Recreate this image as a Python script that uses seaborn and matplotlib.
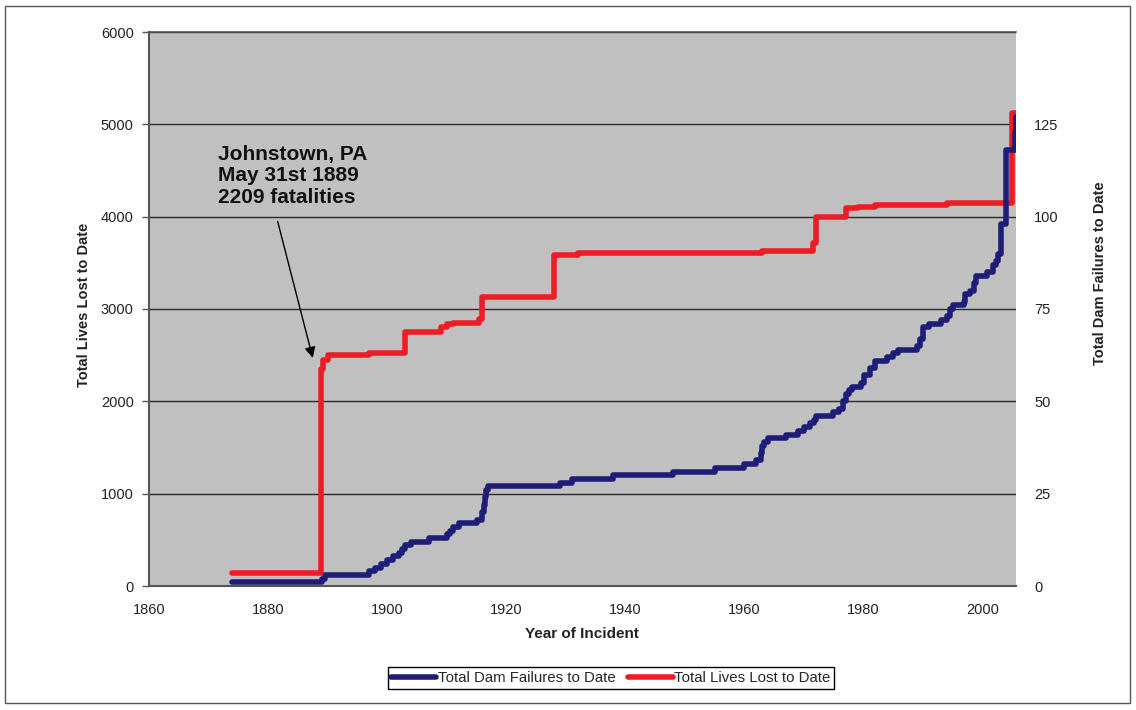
import matplotlib
matplotlib.use("Agg")
import matplotlib.pyplot as plt
import seaborn as sns
import pandas as pd
from matplotlib.patches import Rectangle
from matplotlib.lines import Line2D

# ---------------- data ----------------
lives_years = [1874, 1888.9, 1889.3, 1890, 1897, 1903, 1909, 1910, 1911, 1915.4,
               1916, 1928, 1932, 1963, 1971.5, 1972, 1977, 1979, 1982, 1994, 2005, 2006]
lives_total = [139, 2348, 2450, 2500, 2520, 2755, 2800, 2840, 2853, 2890,
               3135, 3586, 3608, 3633, 3716, 4001, 4095, 4110, 4128, 4150, 5125, 5125]

fail_years = [1874, 1889, 1889.5, 1897, 1898, 1899, 1900, 1901, 1902, 1902.5, 1903, 1904,
              1907, 1910, 1910.5, 1911, 1912, 1915, 1916, 1916.2, 1916.4, 1916.6, 1917,
              1929, 1931, 1938, 1948, 1955, 1960, 1962, 1962.8, 1963, 1963.3, 1964, 1967,
              1969, 1970, 1971, 1971.6, 1972, 1974.8, 1975.8, 1976.6, 1977, 1977.5, 1978,
              1979.5, 1980, 1981, 1982, 1984, 1985, 1985.8, 1989, 1989.5, 1990, 1991, 1993,
              1994, 1994.6, 1995, 1996.8, 1997, 1997.8, 1998.5, 1998.8, 2000.8, 2001.8,
              2002.3, 2002.6, 2003, 2004, 2005.5, 2005.6]
fail_total = [1, 2, 3, 4, 5, 6, 7, 8, 9, 10, 11, 12,
              13, 14, 15, 16, 17, 18, 20, 22, 24, 26, 27,
              28, 29, 30, 31, 32, 33, 34, 36, 38, 39, 40, 41,
              42, 43, 44, 45, 46, 47, 48, 50, 52, 53, 54,
              55, 57, 59, 61, 62, 63, 64, 65, 67, 70, 71, 72,
              73, 75, 76, 77, 79, 80, 82, 84, 85, 87,
              88, 90, 98, 118, 123, 127]

x_ticks = [1860, 1880, 1900, 1920, 1940, 1960, 1980, 2000]
left_ticks = [0, 1000, 2000, 3000, 4000, 5000, 6000]
right_ticks = [0, 25, 50, 75, 100, 125]

lives_df = pd.DataFrame({"year": lives_years, "lives": lives_total})
fail_df = pd.DataFrame({"year": fail_years, "failures": fail_total})

# ---------------- style ----------------
sns.set_style("white")
plt.rcParams["font.family"] = ["Liberation Sans", "DejaVu Sans"]
narrow = ["Liberation Sans Narrow", "Liberation Sans", "DejaVu Sans"]

RED = "#EE1C25"
BLUE = "#1E1E78"

fig = plt.figure(figsize=(11.36, 7.10), dpi=100)
fig.patch.set_facecolor("white")
ax = fig.add_axes([149 / 1136, 1 - 586 / 710, (1016 - 149) / 1136, (586 - 32) / 710])
ax.set_facecolor("#C0C0C0")

# frame around the whole chart
fig.patches.append(Rectangle((5 / 1136, 1 - 703 / 710), 1125 / 1136, 697 / 710,
                             transform=fig.transFigure, fill=False,
                             edgecolor="#555555", linewidth=1.0))

sns.lineplot(data=lives_df, x="year", y="lives", ax=ax, color=RED, linewidth=4,
             drawstyle="steps-post", estimator=None, sort=False, zorder=3)

ax2 = ax.twinx()
sns.lineplot(data=fail_df, x="year", y="failures", ax=ax2, color=BLUE, linewidth=4,
             drawstyle="steps-post", estimator=None, sort=False, zorder=3)

ax.set_xlim(1860, 2005.6)
ax.set_ylim(0, 6000)
ax2.set_ylim(0, 150)

ax.set_xticks(x_ticks)
ax.set_yticks(left_ticks)
ax2.set_yticks(right_ticks)

ax.yaxis.grid(True, color="#2a2a2a", linewidth=1.0)
ax.xaxis.grid(False)
ax.set_axisbelow(True)

for lab in ax.get_xticklabels() + ax.get_yticklabels() + ax2.get_yticklabels():
    lab.set_family(narrow)
    lab.set_fontsize(10.5)
    lab.set_color("#222222")

ax.tick_params(axis="x", direction="out", length=4, width=1, color="#555555", pad=8)
ax.tick_params(axis="y", direction="out", length=5, width=1, color="#555555", pad=6)
ax2.tick_params(axis="y", length=0, pad=13)

for sp in ["left", "bottom"]:
    ax.spines[sp].set_color("#555555")
    ax.spines[sp].set_linewidth(1.5)
ax.spines["top"].set_color("#555555")
ax.spines["top"].set_linewidth(1.2)
ax.spines["right"].set_visible(False)
for sp in ax2.spines.values():
    sp.set_visible(False)

ax.set_xlabel("")
ax.set_ylabel("")
ax2.set_ylabel("")

fig.text(582 / 1136, 1 - 634 / 710, "Year of Incident", ha="center", va="center",
         fontsize=11, fontweight="bold", family=narrow, color="#222222")
fig.text(84 / 1136, 1 - 305 / 710, "Total Lives Lost to Date", ha="center", va="center",
         rotation=90, fontsize=10.5, fontweight="bold", family=narrow, color="#222222")
fig.text(1100 / 1136, 1 - 273 / 710, "Total Dam Failures to Date", ha="center", va="center",
         rotation=90, fontsize=10.5, fontweight="bold", family=narrow, color="#222222")

# annotation text and arrow
ax.text(1871.6, 4780, "Johnstown, PA\nMay 31st 1889\n2209 fatalities",
        ha="left", va="top", fontsize=15, fontweight="bold", color="#111111",
        linespacing=1.18, zorder=5)
ax.annotate("", xy=(1887.5, 2470), xytext=(1881.6, 3950),
            arrowprops=dict(arrowstyle="-|>", color="black", lw=1.0,
                            mutation_scale=16, shrinkA=0, shrinkB=0), zorder=5)

handles = [Line2D([0], [0], color=BLUE, lw=4), Line2D([0], [0], color=RED, lw=4)]
leg = fig.legend(handles, ["Total Dam Failures to Date", "Total Lives Lost to Date"],
                 loc="center", bbox_to_anchor=(611 / 1136, 1 - 678 / 710), ncol=2,
                 frameon=True, fancybox=False, edgecolor="black", framealpha=1,
                 handlelength=3.0, handletextpad=0.1, columnspacing=0.8,
                 borderpad=0.25, prop={"family": narrow, "size": 10.8})
leg.get_frame().set_linewidth(1.0)

fig.savefig("out.png", dpi=100, facecolor="white")
